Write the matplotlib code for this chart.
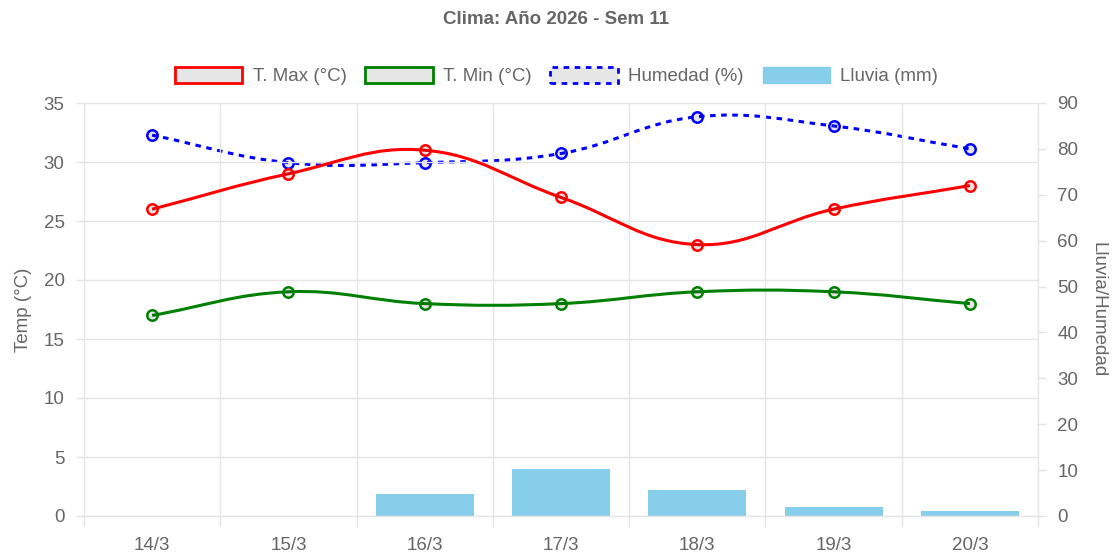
import matplotlib
matplotlib.use("Agg")
import matplotlib.pyplot as plt
import numpy as np
from matplotlib.path import Path
from matplotlib.patches import PathPatch, Patch

dias = ["14/3", "15/3", "16/3", "17/3", "18/3", "19/3", "20/3"]
t_max = [26, 29, 31, 27, 23, 26, 28]
t_min = [17, 19, 18, 18, 19, 19, 18]
humedad = [83, 77, 77, 79, 87, 85, 80]
lluvia = [0, 0, 4.8, 10.2, 5.6, 2.0, 1.0]

plt.rcParams["font.family"] = ["Liberation Sans", "DejaVu Sans"]
plt.rcParams["lines.scale_dashes"] = False
GRAY = "#666666"
GRID = "#e5e5e5"
FS = 13.5

W, H = 1113, 554
fig = plt.figure(figsize=(W / 100, H / 100), dpi=100)
ax = fig.add_axes([84 / W, 38 / H, (1038 - 84) / W, (516 - 103) / H])
ax2 = ax.twinx()
ax.set_zorder(ax2.get_zorder() + 1)
ax.patch.set_visible(False)

x = np.arange(len(dias))
ax.set_xlim(-0.5, len(dias) - 0.5)
ax.set_ylim(0, 35)
ax2.set_ylim(0, 90)


def chartjs_curve(axis, xs, ys, tension=0.4):
    # same bezier control points as Chart.js splineCurve, computed in pixels
    pts = axis.transData.transform(np.column_stack([xs, ys]))
    n = len(pts)
    verts = [pts[0]]
    codes = [Path.MOVETO]
    cps = []
    for i in range(n):
        prev = pts[max(i - 1, 0)]
        cur = pts[i]
        nxt = pts[min(i + 1, n - 1)]
        d01 = np.hypot(*(cur - prev))
        d12 = np.hypot(*(nxt - cur))
        tot = d01 + d12
        s01 = d01 / tot if tot else 0
        s12 = d12 / tot if tot else 0
        cps.append((cur - tension * s01 * (nxt - prev), cur + tension * s12 * (nxt - prev)))
    for i in range(1, n):
        verts += [cps[i - 1][1], cps[i][0], pts[i]]
        codes += [Path.CURVE4] * 3
    verts = axis.transData.inverted().transform(np.array(verts))
    return Path(verts, codes)


# lluvia bars
ax2.bar(x, lluvia, width=0.72, color="#87CEEB", zorder=2)

# humedad (right axis)
ax2.add_patch(PathPatch(chartjs_curve(ax2, x, humedad), fill=False, edgecolor="#0000ff",
                        linewidth=2.2, linestyle=(0, (4, 4)), zorder=3))
ax2.plot(x, humedad, linestyle="none", marker="o", markersize=7.5, markeredgewidth=1.8,
         markeredgecolor="#0000ff", markerfacecolor=(0, 0, 0, 0.1), zorder=4)

# temperatures (left axis)
for serie, col in [(t_max, "#ff0000"), (t_min, "#008000")]:
    ax.add_patch(PathPatch(chartjs_curve(ax, x, serie), fill=False, edgecolor=col,
                           linewidth=2.2, zorder=3))
    ax.plot(x, serie, linestyle="none", marker="o", markersize=7.5, markeredgewidth=1.8,
            markeredgecolor=col, markerfacecolor=(0, 0, 0, 0.1), zorder=4)

# axes styling
ax.set_yticks(np.arange(0, 36, 5))
ax2.set_yticks(np.arange(0, 91, 10))
ax.set_xticks(x)
ax.set_xticklabels(dias)
ax.set_xticks(np.arange(-0.5, len(dias), 1), minor=True)
ax.grid(True, axis="y", color=GRID, linewidth=1)
ax.grid(True, axis="x", which="minor", color=GRID, linewidth=1)
ax.set_axisbelow(True)
ax.tick_params(axis="x", which="major", length=0, pad=15, labelsize=FS, labelcolor=GRAY)
ax.tick_params(axis="x", which="minor", length=8, color=GRID, width=1)
ax.tick_params(axis="y", length=6, color=GRID, width=1, pad=8, labelsize=FS, labelcolor=GRAY)
ax2.tick_params(axis="y", length=6, color=GRID, width=1, pad=8, labelsize=FS, labelcolor=GRAY)
for a in (ax, ax2):
    for s in a.spines.values():
        s.set_color(GRID)
    a.spines["top"].set_visible(False)

ax.set_ylabel("Temp (°C)", color=GRAY, fontsize=FS, labelpad=8)
ax2.set_ylabel("Lluvia/Humedad", color=GRAY, fontsize=FS, rotation=-90, labelpad=20)

fig.text(0.5, 1 - 20 / H, "Clima: Año 2026 - Sem 11", ha="center", va="center",
         fontsize=FS, fontweight="bold", color=GRAY)

handles = [
    Patch(facecolor="#e6e6e6", edgecolor="#ff0000", linewidth=2, label="T. Max (°C)"),
    Patch(facecolor="#e6e6e6", edgecolor="#008000", linewidth=2, label="T. Min (°C)"),
    Patch(facecolor="#e6e6e6", edgecolor="#0000ff", linewidth=2, linestyle=(0, (4, 4)),
          label="Humedad (%)"),
    Patch(facecolor="#87CEEB", edgecolor="#87CEEB", linewidth=1, label="Lluvia (mm)"),
]
leg = fig.legend(handles=handles, loc="center", bbox_to_anchor=(0.5, 1 - 76 / H), ncol=4,
                 frameon=False, fontsize=FS, handlelength=3.6, handleheight=1.0,
                 handletextpad=0.55, columnspacing=1.0, borderpad=0)
for t in leg.get_texts():
    t.set_color(GRAY)

fig.savefig("out.png", dpi=100)
